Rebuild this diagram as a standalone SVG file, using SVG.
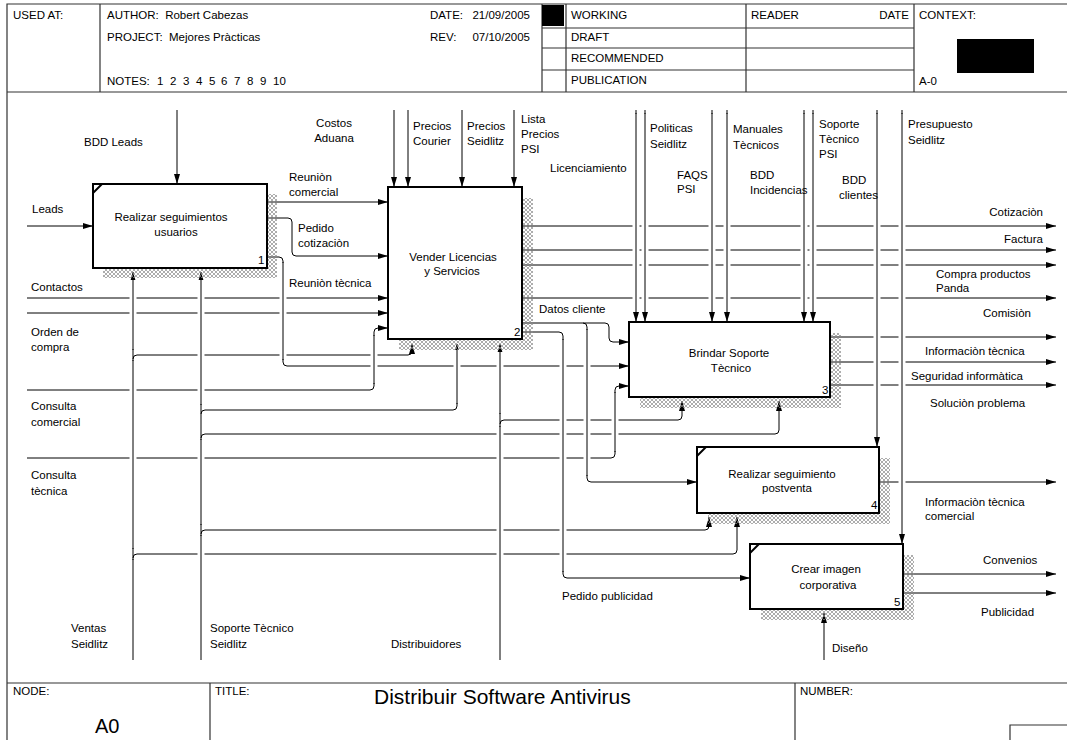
<svg xmlns="http://www.w3.org/2000/svg" width="1067" height="740" viewBox="0 0 1067 740">
<style>
.t{font-family:'Liberation Sans',Arial,sans-serif;font-size:11.5px;fill:#000;white-space:pre}
.m{text-anchor:middle}
.e{text-anchor:end}
.c{fill:none;stroke:#000;stroke-width:1}
.a{marker-end:url(#ah)}
.h{stroke:#fff;stroke-width:7;fill:none}
.v{stroke:#000;stroke-width:1;fill:none}
.box{fill:#fff;stroke:#000;stroke-width:2}
.sh{fill:url(#hatch);stroke:none}
.f{stroke:#333;stroke-width:1.2;fill:none}
.tick{stroke:#000;stroke-width:2}
</style>
<defs>
<marker id="ah" viewBox="0 0 10 6" refX="10" refY="3" markerWidth="10" markerHeight="6" markerUnits="userSpaceOnUse" orient="auto"><path d="M0,0 L10,3 L0,6 z" fill="#000"/></marker>
<pattern id="hatch" width="4" height="4" patternUnits="userSpaceOnUse"><path d="M0,4 L4,0 M0,0 L4,4" stroke="#8a8a8a" stroke-width="0.7"/></pattern>
</defs>
<rect width="1067" height="740" fill="#fff"/>
<g id="frame">
<path class="f" d="M7,740 V4 H1067 M7,92 H1067 M100,4 V92 M542,4 V92 M566,4 V92 M746,4 V92 M914,4 V92 M542,28 H914 M542,48 H914 M542,70 H914 M7,683 H1067 M210,683 V740 M795,683 V740 M1010,740 V725 H1067"/>
<rect x="542" y="5" width="22" height="21" fill="#000"/>
<rect x="957" y="39" width="77" height="34" fill="#000"/>
<text class="t" x="13" y="19">USED AT:</text>
<text class="t" x="107" y="19" xml:space="preserve">AUTHOR:  Robert Cabezas</text>
<text class="t" x="107" y="41" xml:space="preserve">PROJECT:  Mejores Pràcticas</text>
<text class="t" x="107" y="85">NOTES:</text>
<text class="t" y="85"><tspan x="157">1</tspan><tspan x="170">2</tspan><tspan x="183">3</tspan><tspan x="196">4</tspan><tspan x="209">5</tspan><tspan x="221">6</tspan><tspan x="234">7</tspan><tspan x="247">8</tspan><tspan x="260">9</tspan><tspan x="273">10</tspan></text>
<text class="t" x="430" y="19">DATE:</text>
<text class="t e" x="530" y="19">21/09/2005</text>
<text class="t" x="430" y="41">REV:</text>
<text class="t e" x="530" y="41">07/10/2005</text>
<text class="t" x="571" y="19">WORKING</text>
<text class="t" x="571" y="41">DRAFT</text>
<text class="t" x="571" y="62">RECOMMENDED</text>
<text class="t" x="571" y="84">PUBLICATION</text>
<text class="t" x="751" y="19">READER</text>
<text class="t e" x="909" y="19">DATE</text>
<text class="t" x="919" y="19">CONTEXT:</text>
<text class="t" x="919" y="85">A-0</text>
<text class="t" x="13" y="695">NODE:</text>
<text class="t" x="215" y="695">TITLE:</text>
<text class="t" x="800" y="695">NUMBER:</text>
<text x="374" y="704" style="font-family:'Liberation Sans',Arial,sans-serif;font-size:21px">Distribuir Software Antivirus</text>
<text x="95" y="733" style="font-family:'Liberation Sans',Arial,sans-serif;font-size:20px">A0</text>
</g>
<g id="connectors">
<path class="c a" d="M177,110 V184"/>
<path class="c a" d="M394,110 V187"/>
<path class="c a" d="M408,110 V187"/>
<path class="c a" d="M462,110 V187"/>
<path class="c a" d="M514,110 V187"/>
<path class="c a" d="M636,110 V322"/>
<path class="c a" d="M645,110 V322"/>
<path class="c a" d="M712,110 V322"/>
<path class="c a" d="M727,110 V322"/>
<path class="c a" d="M804,110 V322"/>
<path class="c a" d="M813,110 V322"/>
<path class="c a" d="M877,110 V447"/>
<path class="c a" d="M902,110 V544"/>
<path class="c a" d="M27,226 H93"/>
<path class="c a" d="M27,298 H388"/>
<path class="c a" d="M27,313 H388"/>
<path class="c a" d="M27,390 H370 Q374,390 374,386 V332 Q374,328 378,328 H388"/>
<path class="c a" d="M27,458 H611 Q615,458 615,454 V390 Q615,386 619,386 H629"/>
<path class="c a" d="M267,202 H388"/>
<path class="c a" d="M267,218 H288 Q292,218 292,222 V252 Q292,256 296,256 H388"/>
<path class="c a" d="M267,257 H279 Q283,257 283,261 V362 Q283,366 287,366 H629"/>
<path class="c a" d="M133,660 V272"/>
<path class="c a" d="M133,359 Q133,355 137,355 H408 Q412,355 412,351 V344"/>
<path class="c a" d="M133,558 Q133,554 137,554 H733 Q737,554 737,550 V517"/>
<path class="c a" d="M201,660 V272"/>
<path class="c a" d="M201,414 Q201,410 205,410 H453 Q457,410 457,406 V344"/>
<path class="c a" d="M201,438 Q201,434 205,434 H775 Q779,434 779,430 V401"/>
<path class="c a" d="M201,534 Q201,530 205,530 H705 Q709,530 709,526 V517"/>
<path class="c a" d="M500,660 V344"/>
<path class="c a" d="M500,424 Q500,420 504,420 H678 Q682,420 682,416 V401"/>
<path class="c a" d="M824,660 V613"/>
<path class="c a" d="M522,226 H1056"/>
<path class="c a" d="M522,250 H1056"/>
<path class="c a" d="M522,265 H1056"/>
<path class="c a" d="M522,298 H1056"/>
<path class="c a" d="M522,323 H583 Q587,323 587,327 V478 Q587,482 591,482 H697"/>
<path class="c a" d="M583,323 H605 Q609,323 609,327 V338 Q609,342 613,342 H629"/>
<path class="c a" d="M522,332 H559 Q563,332 563,336 V574 Q563,578 567,578 H750"/>
<path class="c a" d="M830,337 H1056"/>
<path class="c a" d="M830,362 H1056"/>
<path class="c a" d="M830,385 H1056"/>
<path class="c a" d="M879,482 H1056"/>
<path class="c a" d="M903,574 H1056"/>
<path class="c a" d="M903,593 H1056"/>
<path class="h" d="M636,114 V312 M645,114 V312 M712,114 V312 M727,114 V312 M804,114 V312 M813,114 V312 M877,114 V437 M902,114 V534 M133,280 V349 M133,361 V548 M133,560 V660 M201,280 V404 M201,440 V524 M201,536 V660 M283,263 V359 M374,336 V383 M457,350 V403 M500,352 V413 M500,427 V660 M563,340 V571 M587,330 V475 M615,393 V451"/>
<path class="v" d="M636,113 V313 M645,113 V313 M712,113 V313 M727,113 V313 M804,113 V313 M813,113 V313 M877,113 V438 M902,113 V535 M133,279 V350 M133,360 V549 M133,559 V660 M201,279 V405 M201,439 V525 M201,535 V660 M283,262 V360 M374,335 V384 M457,349 V404 M500,351 V414 M500,426 V660 M563,339 V572 M587,329 V476 M615,392 V452"/>
</g>
<g id="labels">
<text class="t" x="84" y="146">BDD Leads</text>
<text class="t m" x="334" y="127">Costos</text>
<text class="t m" x="334" y="142">Aduana</text>
<text class="t" x="413" y="130">Precios</text>
<text class="t" x="413" y="145">Courier</text>
<text class="t" x="467" y="130">Precios</text>
<text class="t" x="467" y="145">Seidlitz</text>
<text class="t" x="521" y="123">Lista</text>
<text class="t" x="521" y="138">Precios</text>
<text class="t" x="521" y="153">PSI</text>
<text class="t" x="550" y="172">Licenciamiento</text>
<text class="t" x="650" y="132">Politicas</text>
<text class="t" x="650" y="148">Seidlitz</text>
<text class="t" x="677" y="179">FAQS</text>
<text class="t" x="677" y="193">PSI</text>
<text class="t" x="733" y="133">Manuales</text>
<text class="t" x="733" y="149">Tècnicos</text>
<text class="t" x="750" y="179">BDD</text>
<text class="t" x="750" y="194">Incidencias</text>
<text class="t" x="819" y="128">Soporte</text>
<text class="t" x="819" y="143">Tècnico</text>
<text class="t" x="819" y="158">PSI</text>
<text class="t" x="842" y="184">BDD</text>
<text class="t" x="839" y="199">clientes</text>
<text class="t" x="908" y="128">Presupuesto</text>
<text class="t" x="908" y="144">Seidlitz</text>
<text class="t" x="32" y="213">Leads</text>
<text class="t" x="289" y="181">Reuniòn</text>
<text class="t" x="289" y="196">comercial</text>
<text class="t" x="298" y="232">Pedido</text>
<text class="t" x="298" y="247">cotizaciòn</text>
<text class="t" x="289" y="287">Reuniòn tècnica</text>
<text class="t" x="31" y="291">Contactos</text>
<text class="t" x="31" y="336">Orden de</text>
<text class="t" x="31" y="351">compra</text>
<text class="t" x="31" y="410">Consulta</text>
<text class="t" x="31" y="426">comercial</text>
<text class="t" x="31" y="479">Consulta</text>
<text class="t" x="31" y="495">tècnica</text>
<text class="t" x="539" y="313">Datos cliente</text>
<text class="t e" x="1043" y="216">Cotizaciòn</text>
<text class="t e" x="1043" y="243">Factura</text>
<text class="t" x="936" y="278">Compra productos</text>
<text class="t" x="936" y="292">Panda</text>
<text class="t" x="983" y="317">Comisiòn</text>
<text class="t" x="925" y="355">Informaciòn tècnica</text>
<text class="t" x="911" y="380">Seguridad informàtica</text>
<text class="t" x="930" y="407">Soluciòn problema</text>
<text class="t" x="925" y="506">Informaciòn tècnica</text>
<text class="t" x="925" y="520">comercial</text>
<text class="t" x="983" y="564">Convenios</text>
<text class="t" x="981" y="616">Publicidad</text>
<text class="t" x="562" y="600">Pedido publicidad</text>
<text class="t" x="71" y="632">Ventas</text>
<text class="t" x="71" y="648">Seidlitz</text>
<text class="t" x="210" y="632">Soporte Tècnico</text>
<text class="t" x="210" y="648">Seidlitz</text>
<text class="t" x="391" y="648">Distribuidores</text>
<text class="t" x="832" y="652">Diseño</text>
</g>
<g id="node1">
<rect class="sh" x="103" y="194" width="174" height="84"/>
<rect class="box" x="93" y="184" width="174" height="84"/>
<path class="tick" d="M93,193 L102,184"/>
<text class="t m" x="171" y="221">Realizar seguimientos</text>
<text class="t m" x="176" y="236">usuarios</text>
<text class="t" x="258" y="264">1</text>
</g>
<g id="node2">
<rect class="sh" x="399" y="198" width="134" height="152"/>
<rect class="box" x="388" y="187" width="134" height="152"/>
<text class="t m" x="453" y="261">Vender Licencias</text>
<text class="t m" x="452" y="275">y Servicios</text>
<text class="t" x="514" y="336">2</text>
</g>
<g id="node3">
<rect class="sh" x="640" y="333" width="201" height="75"/>
<rect class="box" x="629" y="322" width="201" height="75"/>
<text class="t m" x="729" y="357">Brindar Soporte</text>
<text class="t m" x="731" y="372">Tècnico</text>
<text class="t" x="822" y="394">3</text>
</g>
<g id="node4">
<rect class="sh" x="708" y="458" width="182" height="66"/>
<rect class="box" x="697" y="447" width="182" height="66"/>
<path class="tick" d="M697,456 L706,447"/>
<text class="t m" x="782" y="478">Realizar seguimiento</text>
<text class="t m" x="787" y="492">postventa</text>
<text class="t" x="871" y="509">4</text>
</g>
<g id="node5">
<rect class="sh" x="761" y="555" width="153" height="65"/>
<rect class="box" x="750" y="544" width="153" height="65"/>
<path class="tick" d="M750,553 L759,544"/>
<text class="t m" x="826" y="573">Crear imagen</text>
<text class="t m" x="828" y="589">corporativa</text>
<text class="t" x="894" y="606">5</text>
</g>
</svg>
